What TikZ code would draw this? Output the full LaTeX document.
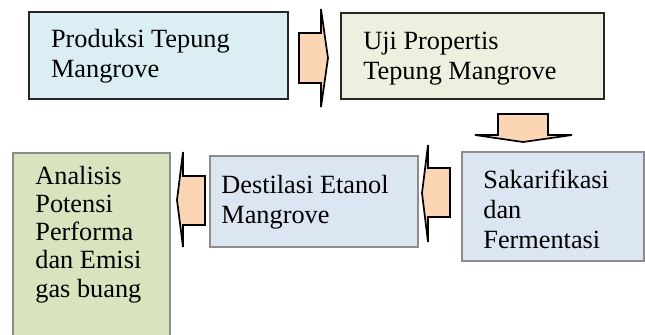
\documentclass[tikz,border=0pt]{standalone}
\usepackage{fontspec}
\setmainfont{Liberation Serif}
\definecolor{cBlueA}{HTML}{DAEEF3}
\definecolor{cGreenA}{HTML}{EBF1DE}
\definecolor{cBlueB}{HTML}{DCE6F2}
\definecolor{cGreenB}{HTML}{D7E4BD}
\definecolor{cArrow}{HTML}{FCD5B5}
\definecolor{cGrayLine}{HTML}{8C8C8C}
\begin{document}
\begin{tikzpicture}[x=0.5pt,y=-0.5pt,
  boxdark/.style={draw=black!85,line width=0.8pt,inner sep=0pt},
  boxgray/.style={draw=cGrayLine,line width=0.8pt,inner sep=0pt},
  txt/.style={inner sep=0pt,align=left,font=\fontsize{13.15}{15}\selectfont},
  txtb/.style={inner sep=0pt,align=left,font=\fontsize{13.15}{14.1}\selectfont},
  blockarrow/.style={draw=black,fill=cArrow,line width=0.85pt,line join=miter}]
\useasboundingbox (0,0) rectangle (645,334);
\clip (0,0) rectangle (645,334);
% boxes
\node[boxdark,fill=cBlueA,minimum width=129.5pt,minimum height=43.5pt] (b1) at (158.5,55.5) {};
\node[boxdark,fill=cGreenA,minimum width=131.5pt,minimum height=43pt] (b2) at (472.5,56) {};
\node[boxgray,fill=cBlueB,minimum width=91pt,minimum height=54.5pt] (b3) at (553,206.5) {};
\node[boxgray,fill=cBlueB,minimum width=104pt,minimum height=45.5pt] (b4) at (314,201.5) {};
\node[boxgray,fill=cGreenB,minimum width=78.5pt,minimum height=96pt] (b5) at (91.5,249) {};
% texts (base anchor = baseline of the last line)
\node[txt,anchor=base west] (t1) at (50.7,77.7) {Produksi Tepung\\Mangrove};
\node[txt,anchor=base west] (t2) at (363,79.3) {Uji Propertis\\Tepung Mangrove};
\node[txt,anchor=base west] (t3) at (483,248) {Sakarifikasi\\dan\\Fermentasi};
\node[txt,anchor=base west] (t4) at (221,223) {Destilasi Etanol\\Mangrove};
\node[txtb,anchor=base west] (t5) at (35,297) {Analisis\\Potensi\\Performa\\dan Emisi\\gas buang};
% block arrows
\draw[blockarrow] (299,33) -- (321,33) -- (321,9) -- (328,58) -- (321,107) -- (321,83) -- (299,83) -- cycle;
\draw[blockarrow] (498,114) -- (548,114) -- (548,135) -- (572,135) -- (523,142) -- (475,135) -- (498,135) -- cycle;
\draw[blockarrow] (450,168) -- (428,168) -- (428,145) -- (422,193) -- (428,242) -- (428,217) -- (450,217) -- cycle;
\draw[blockarrow] (205,176) -- (183,176) -- (183,152) -- (177,200) -- (183,247) -- (183,225) -- (205,225) -- cycle;
\end{tikzpicture}
\end{document}
